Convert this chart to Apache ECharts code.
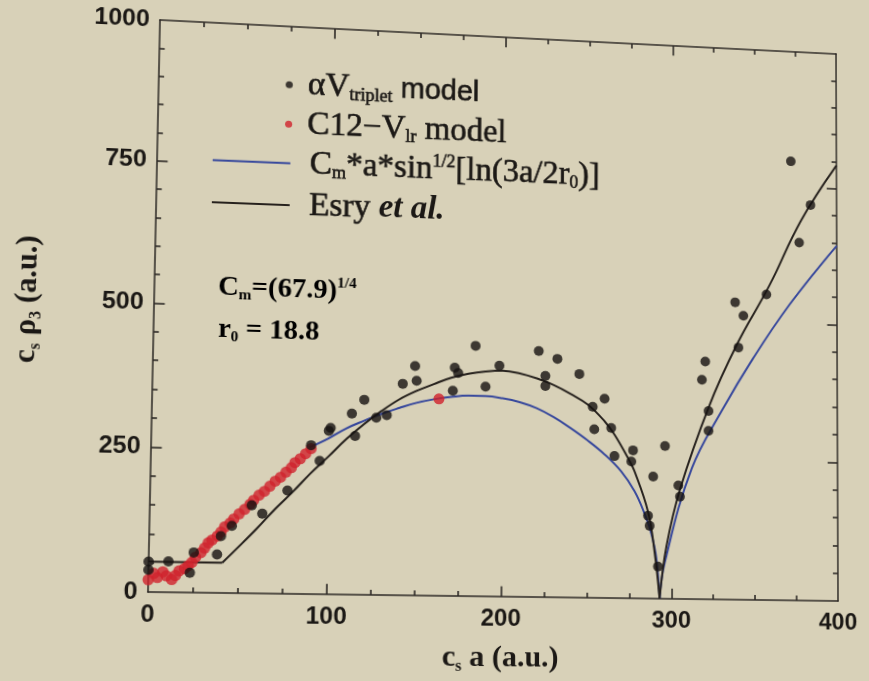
<!DOCTYPE html>
<html>
<head>
<meta charset="utf-8">
<script src="https://cdn.jsdelivr.net/npm/echarts@6/dist/echarts.min.js"></script>
<style>
  html, body { margin: 0; padding: 0; background: #d8d1b8; overflow: hidden; }
  #chart { width: 869px; height: 681px; transform-origin: 0 0; }
</style>
</head>
<body>
<div id="chart"></div>
<script>
// ---------- data (c_s a , c_s rho_3), atomic units ----------
const xTicks = [0, 100, 200, 300, 400];
const yTicks = [0, 250, 500, 750, 1000];

// alpha V_triplet model
const tripletPoints = [
  [0,52],[0,38],[11,53],[23,34],[25,69],[38,66],[40,98],[46,116],[57,152],[63,138],
  [77,179],[90,259],[95,232],[100,285],[101,290],[113,316],[115,277],[120,341],[127,310],[133,315],
  [142,371],[149,403],[150,377],[171,361],[172,402],[174,393],[184,442],[190,370],[198,408],[221,436],
  [225,392],[225,374],[232,423],[245,397],[253,339],[254,299],[260,354],[264,302],[266,252],[277,263],
  [276,243],[289,217],[296,272],[286,147],[287,129],[292,57],[304,202],[305,182],[318,393],[320,426],
  [322,337],[322,301],[338,535],[343,511],[340,453],[357,551],[377,648],[384,718],[372,797]
];

// C12 - V_lr model
const c12Points = [
  [0,21],[3,32],[5,25],[8,35],[10,28],[13,22],[15,29],[17,37],[20,41],[22,46],
  [24,52],[26,61],[29,69],[31,77],[33,86],[35,91],[38,98],[40,105],[42,114],[45,121],
  [47,128],[50,137],[53,145],[56,154],[58,161],[61,170],[64,177],[67,186],[70,195],[73,202],
  [76,211],[79,219],[81,228],[84,235],[87,244],[90,253],[163,346]
];

// C_m * a * sin^{1/2}[ln(3a/2r0)], two branches either side of the node
const fitLeft = [
  [89,255],[100,272],[110,290],[120,304],[130,317],[140,328],[150,338],[160,345],[170,350],
  [180,353],[190,353],[200,350],[210,344],[220,334],[230,319],[240,300],[250,279],[260,255],
  [270,225],[278,190],[284,150],[288,115],[291,72],[293,0]
];
const fitRight = [[293,0],[296,64],[312,233],[330,338],[349,435],[371,534],[400,645]];

// Esry et al.
const esryFlat = [[0,52],[41,52]];
const esryLeft = [
  [41,52],[50,80],[60,112],[70,146],[80,177],[90,210],[100,240],[110,271],[120,298],[130,322],
  [140,343],[150,359],[160,372],[170,384],[180,392],[190,397],[200,399],[210,395],[220,387],
  [230,376],[240,361],[250,343],[260,314],[266,290],[274,249],[278,225],[286,154],[290,82],[293,0]
];
const esryRight = [[293,0],[297,93],[305,195],[322,343],[339,458],[359,569],[378,688],[400,793]];

// tick spacing (major from the label arrays, minor subdivisions)
const xMinorStep = 25;
const yMinorStep = 50;

// ---------- slight perspective tilt of the whole figure ----------
const frameSrc = [[150,30],[837,30],[837,597],[150,597]];
const frameDst = [[160,20],[836,54],[838,601],[148,592]];

function homography(src, dst) {
  const A = [], b = [];
  for (let i = 0; i < 4; i++) {
    const [x, y] = src[i], [u, v] = dst[i];
    A.push([x, y, 1, 0, 0, 0, -x * u, -y * u]); b.push(u);
    A.push([0, 0, 0, x, y, 1, -x * v, -y * v]); b.push(v);
  }
  const n = 8;
  for (let c = 0; c < n; c++) {
    let p = c;
    for (let r = c + 1; r < n; r++) if (Math.abs(A[r][c]) > Math.abs(A[p][c])) p = r;
    [A[c], A[p]] = [A[p], A[c]]; [b[c], b[p]] = [b[p], b[c]];
    for (let r = 0; r < n; r++) {
      if (r === c) continue;
      const f = A[r][c] / A[c][c];
      if (!f) continue;
      for (let k = c; k < n; k++) A[r][k] -= f * A[c][k];
      b[r] -= f * b[c];
    }
  }
  const h = b.map((v, i) => v / A[i][i]);
  return [[h[0], h[1], h[2]], [h[3], h[4], h[5]], [h[6], h[7], 1]];
}
function invert3(m) {
  const [a, b, c] = m[0], [d, e, f] = m[1], [g, h, i] = m[2];
  const A = e * i - f * h, B = -(d * i - f * g), C = d * h - e * g;
  const det = a * A + b * B + c * C;
  return [
    [A / det, -(b * i - c * h) / det, (b * f - c * e) / det],
    [B / det, (a * i - c * g) / det, -(a * f - c * d) / det],
    [C / det, -(a * h - b * g) / det, (a * e - b * d) / det]
  ];
}
function project(m, x, y) {
  const w = m[2][0] * x + m[2][1] * y + m[2][2];
  return [(m[0][0] * x + m[0][1] * y + m[0][2]) / w, (m[1][0] * x + m[1][1] * y + m[1][2]) / w];
}
const H = homography(frameSrc, frameDst);
const Hinv = invert3(H);
const at = (x, y) => project(Hinv, x, y);

const el = document.getElementById('chart');
el.style.transform = 'matrix3d(' + [
  H[0][0], H[1][0], 0, H[2][0],
  H[0][1], H[1][1], 0, H[2][1],
  0, 0, 1, 0,
  H[0][2], H[1][2], 0, 1
].join(',') + ')';

// ---------- styles ----------
const ink = '#1b1815';
const serif = '"Liberation Serif", "Times New Roman", serif';
const sans = '"Liberation Sans", Arial, sans-serif';
const heavy = { textBorderColor: ink, textBorderWidth: 0.6 };

const legendRich = {
  t:   Object.assign({ fontFamily: serif, fontSize: 33, color: ink, lineHeight: 34 }, heavy),
  s:   Object.assign({ fontFamily: sans, fontSize: 29, color: ink, lineHeight: 34 }, heavy),
  sub: Object.assign({ fontFamily: serif, fontSize: 18, color: ink, lineHeight: 14, verticalAlign: 'bottom' }, heavy),
  sup: Object.assign({ fontFamily: serif, fontSize: 18, color: ink, lineHeight: 14, verticalAlign: 'top' }, heavy),
  bi:  { fontFamily: serif, fontSize: 33, fontWeight: 'bold', fontStyle: 'italic', color: ink, lineHeight: 34 },
  sp:  { width: 10, lineHeight: 34 },
  sp2: { width: 14, lineHeight: 34 }
};
const legendLabels = {
  'αV_triplet model': '{sp|}{t|αV}{sub|triplet}{s| model}',
  'C12−V_lr model': '{sp|}{t|C12−V}{sub|lr}{t| model}',
  'C_m*a*sin^1/2[ln(3a/2r_0)]': '{sp2|}{t|C}{sub|m}{t|*a*sin}{sup|1/2}{t|[ln(3a/2r}{sub|0}{t|)]}',
  'Esry et al.': '{sp2|}{t|Esry }{bi|et al.}'
};

const noteRich = {
  b:  { fontFamily: serif, fontSize: 28, fontWeight: 'bold', color: ink, lineHeight: 30 },
  bs: { fontFamily: serif, fontSize: 15, fontWeight: 'bold', color: ink, lineHeight: 12, verticalAlign: 'bottom' },
  bp: { fontFamily: serif, fontSize: 15, fontWeight: 'bold', color: ink, lineHeight: 12, verticalAlign: 'top' }
};
const nameRich = {
  b:  { fontFamily: serif, fontSize: 30, fontWeight: 'bold', color: ink, lineHeight: 34 },
  bs: { fontFamily: serif, fontSize: 16, fontWeight: 'bold', color: ink, lineHeight: 14, verticalAlign: 'bottom' }
};

const frameColor = '#2e2a26';
const axisLine = { show: true, onZero: false, lineStyle: { color: frameColor, width: 1.5 } };
const tickLabel = { color: ink, fontFamily: sans, fontWeight: 'bold', fontSize: 24, formatter: v => String(v) };

const xMin = xTicks[0], xMax = xTicks[xTicks.length - 1], xStep = xTicks[1] - xTicks[0];
const yMin = yTicks[0], yMax = yTicks[yTicks.length - 1], yStep = yTicks[1] - yTicks[0];

function xAxisDef(pos, labels) {
  return {
    type: 'value', position: pos, min: xMin, max: xMax, interval: xStep,
    axisLine: axisLine, axisTick: { show: false }, splitLine: { show: false },
    axisLabel: labels ? Object.assign({ margin: 10 }, tickLabel) : { show: false },
    name: labels ? '{b|c}{bs|s}{b| a (a.u.)}' : '',
    nameLocation: 'middle', nameGap: 44,
    nameTextStyle: { rich: nameRich }
  };
}
function yAxisDef(pos, labels) {
  return {
    type: 'value', position: pos, min: yMin, max: yMax, interval: yStep,
    axisLine: axisLine, axisTick: { show: false }, splitLine: { show: false },
    axisLabel: labels ? Object.assign({ margin: 10 }, tickLabel) : { show: false },
    name: labels ? '{b|c}{bs|s}{b| ρ}{bs|3}{b| (a.u.)}' : '',
    nameLocation: 'middle', nameGap: 104, nameRotate: 90,
    nameTextStyle: { rich: nameRich }
  };
}

// inward tick marks on all four sides of the frame, in data units
const tickLen = { xMajor: 18, xMinor: 9, yMajor: 6, yMinor: 3 };
const tickSegments = [];
const seg = (x1, y1, x2, y2) => [{ coord: [x1, y1] }, { coord: [x2, y2] }];
for (let x = xMin + xMinorStep; x < xMax; x += xMinorStep) {
  const len = (x % xStep === 0) ? tickLen.xMajor : tickLen.xMinor;
  tickSegments.push(seg(x, yMin, x, yMin + len), seg(x, yMax, x, yMax - len));
}
for (let y = yMin + yMinorStep; y < yMax; y += yMinorStep) {
  const len = (y % yStep === 0) ? tickLen.yMajor : tickLen.yMinor;
  tickSegments.push(seg(xMin, y, xMin + len, y), seg(xMax, y, xMax - len, y));
}

const leg1 = at(286, 68);
const leg2 = at(213, 143);
const noteCm = at(218, 287);
const noteR0 = at(218, 329);

const blue = '#36479c';
const esryColor = '#26211d';

const chart = echarts.init(el, null, { renderer: 'canvas' });
chart.setOption({
  backgroundColor: 'transparent',
  animation: false,
  grid: { left: 150, top: 30, right: 32, bottom: 84 },
  xAxis: [xAxisDef('bottom', true), xAxisDef('top', false)],
  yAxis: [yAxisDef('left', true), yAxisDef('right', false)],
  legend: [
    {
      data: ['αV_triplet model', 'C12−V_lr model'],
      orient: 'vertical', left: leg1[0], top: leg1[1], padding: 0,
      itemWidth: 7, itemHeight: 7, itemGap: 6, icon: 'circle',
      formatter: n => legendLabels[n],
      textStyle: { rich: legendRich }
    },
    {
      data: ['C_m*a*sin^1/2[ln(3a/2r_0)]', 'Esry et al.'],
      orient: 'vertical', left: leg2[0], top: leg2[1], padding: 0,
      itemWidth: 76, itemHeight: 2, itemGap: 8, icon: 'rect',
      formatter: n => legendLabels[n],
      textStyle: { rich: legendRich }
    }
  ],
  graphic: [
    {
      type: 'text', x: noteCm[0], y: noteCm[1],
      style: { text: '{b|C}{bs|m}{b|=(67.9)}{bp|1/4}', rich: noteRich, verticalAlign: 'middle' }
    },
    {
      type: 'text', x: noteR0[0], y: noteR0[1],
      style: { text: '{b|r}{bs|0}{b| = 18.8}', rich: noteRich, verticalAlign: 'middle' }
    }
  ],
  series: [
    { name: 'C12−V_lr model', type: 'scatter', data: c12Points, symbolSize: 11,
      itemStyle: { color: '#d0222c' }, z: 3 },
    { name: 'αV_triplet model', type: 'scatter', data: tripletPoints, symbolSize: 10,
      itemStyle: { color: '#151210' }, z: 4 },
    { name: 'C_m*a*sin^1/2[ln(3a/2r_0)]', type: 'line', data: fitLeft, smooth: 0.4, symbol: 'none',
      lineStyle: { color: blue, width: 2 }, itemStyle: { color: blue }, z: 2 },
    { name: 'C_m*a*sin^1/2[ln(3a/2r_0)]', type: 'line', data: fitRight, smooth: 0.4, symbol: 'none',
      lineStyle: { color: blue, width: 2 }, itemStyle: { color: blue }, z: 2 },
    { name: 'Esry et al.', type: 'line', data: esryFlat, symbol: 'none',
      lineStyle: { color: esryColor, width: 2 }, itemStyle: { color: esryColor }, z: 2,
      markLine: {
        silent: true, symbol: 'none', animation: false, label: { show: false },
        lineStyle: { color: frameColor, width: 1.6, type: 'solid' },
        emphasis: { disabled: true },
        data: tickSegments
      } },
    { name: 'Esry et al.', type: 'line', data: esryLeft, smooth: 0.4, symbol: 'none',
      lineStyle: { color: esryColor, width: 2 }, itemStyle: { color: esryColor }, z: 2 },
    { name: 'Esry et al.', type: 'line', data: esryRight, smooth: 0.4, symbol: 'none',
      lineStyle: { color: esryColor, width: 2 }, itemStyle: { color: esryColor }, z: 2 }
  ]
});
</script>
</body>
</html>
